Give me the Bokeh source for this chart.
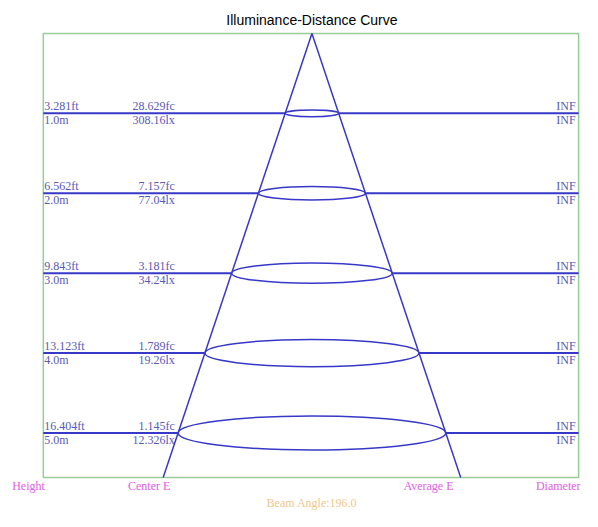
from bokeh.plotting import figure
from bokeh.models import Range1d, ColumnDataSource
from bokeh.core.properties import value
from bokeh.embed import file_html
from bokeh.resources import INLINE

# ---- data ----
heights_m = [1.0, 2.0, 3.0, 4.0, 5.0]
heights_ft = [3.281, 6.562, 9.843, 13.123, 16.404]
center_fc = [28.629, 7.157, 3.181, 1.789, 1.145]
center_lx = [308.16, 77.04, 34.24, 19.26, 12.326]
diameter_labels = ["INF", "INF", "INF", "INF", "INF"]
footer_labels = ["Height", "Center E", "Average E", "Diameter"]
beam_angle = 196.0
title_text = "Illuminance-Distance Curve"

# ---- layout constants (reference pixels) ----
S = 82.4            # px per metre (vertical)
AX, AY = 320, 34    # apex position
SPREAD = 27.5 / S   # cone half-width per metre
ELL = 3.5 / S       # ellipse half-height per metre

def dx(px):
    return (px - AX) / S

def dy(py):
    return (py - AY) / S

frame_l, frame_r, frame_b = dx(44), dx(594), dy(492)

BLUE = "#3838c8"
TXT = "#5a5ab4"
MAG = "#e060e0"
TAN = "#f0c88c"
GREEN = "#96cc96"
SERIF = value("Liberation Serif")

p = figure(width=582, height=511,
           x_range=Range1d(dx(0), dx(598)),
           y_range=Range1d(dy(527), dy(0)),
           x_axis_type=None, y_axis_type=None,
           output_backend="svg", toolbar_location=None,
           min_border=0)
p.grid.visible = False
p.outline_line_color = None
p.background_fill_color = "white"

# frame
p.quad(left=[frame_l], right=[frame_r], top=[0], bottom=[frame_b],
       fill_color=None, line_color=GREEN, line_width=1.5)

# horizontal levels
half = [SPREAD * h for h in heights_m]
src = ColumnDataSource(dict(
    y=heights_m,
    half=half,
    neg=[-w for w in half],
    w=[2 * w for w in half],
    hh=[2 * ELL * h for h in heights_m],
    fl=[frame_l] * len(heights_m),
    fr=[frame_r] * len(heights_m),
    ft=[f"{v:.3f}ft" for v in heights_ft],
    m=[f"{v:.1f}m" for v in heights_m],
    fc=[f"{v:.3f}fc" for v in center_fc],
    lx=[f"{v}lx" for v in center_lx],
    inf=diameter_labels,
))
p.segment(x0="fl", x1="neg", y0="y", y1="y", source=src, line_color=BLUE, line_width=2)
p.segment(x0="half", x1="fr", y0="y", y1="y", source=src, line_color=BLUE, line_width=2)

# ellipses
p.ellipse(x=0, y="y", width="w", height="hh", source=src,
          fill_color=None, line_color=BLUE, line_width=1.5)

# cone
p.line(x=[-SPREAD * frame_b, 0, SPREAD * frame_b], y=[frame_b, 0, frame_b],
       line_color=BLUE, line_width=1.5)

# labels
common = dict(source=src, text_font=SERIF, text_font_size=value("12px"),
              text_color=TXT, text_baseline="middle")
UP, DN = -7, 7
p.text(x=dx(45), y="y", text="ft", y_offset=UP, text_align="left", **common)
p.text(x=dx(45), y="y", text="m", y_offset=DN, text_align="left", **common)
p.text(x=dx(179), y="y", text="fc", y_offset=UP, text_align="right", **common)
p.text(x=dx(179), y="y", text="lx", y_offset=DN, text_align="right", **common)
p.text(x=dx(591), y="y", text="inf", y_offset=UP, text_align="right", **common)
p.text(x=dx(591), y="y", text="inf", y_offset=DN, text_align="right", **common)

# footer labels
foot = dict(text_font=SERIF, text_font_size=value("12px"), text_color=MAG,
            text_baseline="middle")
p.text(x=[dx(12), dx(131), dx(414)], y=[dy(501)] * 3, text=footer_labels[:3],
       text_align="left", **foot)
p.text(x=[dx(596)], y=[dy(501)], text=footer_labels[3:], text_align="right", **foot)
p.text(x=[0], y=[dy(518)], text=[f"Beam Angle:{beam_angle:.1f}"],
       text_font=SERIF, text_font_size=value("12px"), text_color=TAN,
       text_align="center", text_baseline="middle")

# title
p.text(x=[0], y=[dy(20)], text=[title_text],
       text_font=value("Liberation Sans"), text_font_size=value("14px"),
       text_color="black", text_align="center", text_baseline="middle")

open("out.html", "w").write(file_html(p, INLINE))
